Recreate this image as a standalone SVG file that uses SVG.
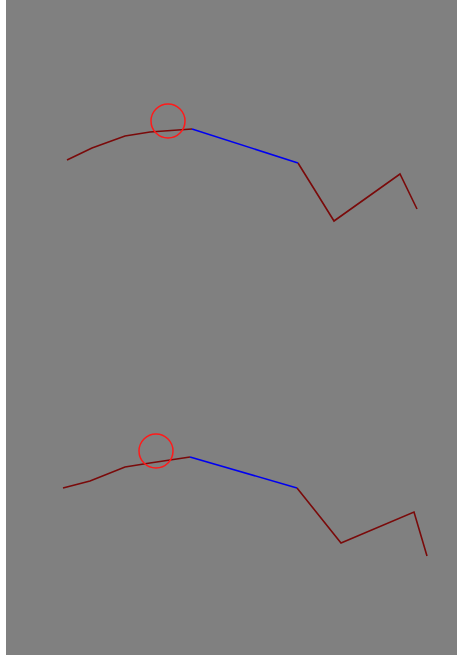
<svg xmlns="http://www.w3.org/2000/svg" width="457" height="661" viewBox="0 0 457 661">
<style>
.bg{fill:#808080}
.red{fill:none;stroke:#7a0a0a;stroke-width:1.6;stroke-linejoin:miter}
.blue{fill:none;stroke:#0000f0;stroke-width:1.6}
.mark{fill:none;stroke:#ff1a1a;stroke-width:1.5}
</style>
<rect width="457" height="661" fill="#ffffff"/>
<rect class="bg" x="6" y="0" width="451" height="655"/>
<g id="connectors">
<g id="top">
<polyline class="red" points="67,160 92,148 125,136 150,132 192,129"/>
<polyline class="blue" points="192,129 298,163"/>
<polyline class="red" points="298,163 334,221 400,174 417,209"/>
</g>
<g id="bottom">
<polyline class="red" points="63,488 90,481 125,467 150,463 190,457"/>
<polyline class="blue" points="190,457 297,488"/>
<polyline class="red" points="297,488 341,543 414,512 427,556"/>
</g>
</g>
<g id="marker-top"><circle class="mark" cx="168" cy="121" r="17"/></g>
<g id="marker-bottom"><circle class="mark" cx="156" cy="451" r="17"/></g>
</svg>
